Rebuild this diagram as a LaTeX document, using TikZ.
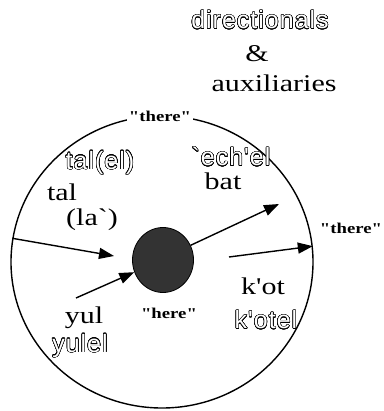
\documentclass[tikz,border=0pt]{standalone}
\usepackage{fontspec}
\usepackage{xcolor}
\usepackage[copies]{contour}
\usepackage{tikz}
\usetikzlibrary{arrows.meta, shapes.geometric}

\setmainfont{Liberation Serif}
\newfontfamily\widefont[FakeStretch=1.25]{Liberation Serif}
\newfontfamily\hollowfont[LetterSpace=4]{Liberation Sans}
\contourlength{0.5pt}
\contournumber{24}
\newcommand{\hollow}[1]{\contour{black}{\textcolor{white}{#1}}}

\begin{document}
\begin{tikzpicture}[
    x=1pt, y=-1pt,
    >={Triangle[length=15pt, width=11pt]},
    every path/.style={line width=1.4pt},
    word/.style={
        font=\widefont\fontsize{24}{26}\selectfont,
        inner sep=0pt
    },
    hword/.style={
        font=\hollowfont\fontsize{25}{27}\selectfont,
        inner sep=0pt
    },
    place/.style={
        font=\widefont\bfseries\fontsize{15}{17}\selectfont,
        inner sep=0pt
    }
]

\useasboundingbox (0,0) rectangle (383,411);

% ==================== Title ====================
\node[hword] (t1) at (260,20)  {\hollow{directionals}};
\node[word]  (t2) at (257,54)  {\&};
\node[word]  (t3) at (274,83)  {auxiliaries};

% ==================== Circles ====================
\node[ellipse, draw, minimum width=302pt, minimum height=292pt] (world) at (162,262) {};
\node[ellipse, fill=black!80, draw=black, line width=0.8pt,
      minimum width=61pt, minimum height=65pt] (blob) at (163,260) {};

\node[place, fill=white, inner sep=2pt] (there1) at (160,116) {"there"};
\node[place] (there2) at (351,228) {"there"};
\node[place] (here)   at (169,313) {"here"};

% ==================== Words ====================
\node[hword] (w1) at (100,163) {\hollow{tal(el)}};
\node[word]  (w2) at (62,192)  {tal};
\node[word]  (w3) at (92,220)  {(la`)};

\node[hword] (w4) at (231,157) {\hollow{`ech'el}};
\node[word]  (w5) at (223,181) {bat};

\node[word]  (w6) at (263,286) {k'ot};
\node[hword] (w7) at (266,320) {\hollow{k'otel}};

\node[word]  (w8) at (84,318)  {yul};
\node[hword] (w9) at (80,346)  {\hollow{yulel}};

% ==================== Arrows ====================
\coordinate (e1) at (114,256);
\coordinate (e2) at (279,204);
\coordinate (s3) at (229,257);
\coordinate (s4) at (76,298);

\draw[->] (world.171) -- (e1);
\draw[->] (blob.28) -- (e2);
\draw[->] (s3) -- (world.6);
\draw[->] (s4) -- (blob.203);

\end{tikzpicture}
\end{document}
